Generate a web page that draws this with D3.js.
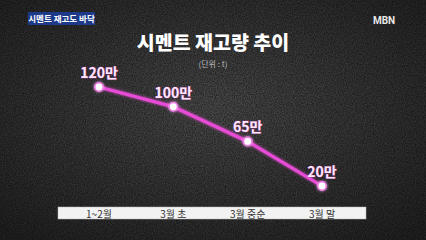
<!DOCTYPE html>
<html>
<head>
<meta charset="utf-8">
<script src="https://cdn.jsdelivr.net/npm/d3@7"></script>
<style>
  body { margin: 0; background: #222; }
  svg { display: block; }
</style>
</head>
<body>
<svg id="chart" width="426" height="240"></svg>
<script>
const periods = ["1~2월", "3월 초", "3월 중순", "3월 말"];
const stock = [120, 100, 65, 20];
const valueLabels = ["120만", "100만", "65만", "20만"];

const svg = d3.select("#chart");
const W = 426, H = 240;
const defs = svg.append("defs");

// textured asphalt background
const noise = defs.append("filter").attr("id", "noise").attr("x", 0).attr("y", 0).attr("width", "100%").attr("height", "100%");
noise.append("feTurbulence").attr("type", "fractalNoise").attr("baseFrequency", 0.9).attr("numOctaves", 2).attr("seed", 3);
noise.append("feColorMatrix").attr("type", "matrix")
  .attr("values", "0 0 0 0 0.5  0 0 0 0 0.5  0 0 0 0 0.5  0.9 0 0 0 -0.25");
const vign = defs.append("radialGradient").attr("id", "vign").attr("cx", "50%").attr("cy", "45%").attr("r", "70%");
vign.append("stop").attr("offset", "0%").attr("stop-color", "#000").attr("stop-opacity", 0);
vign.append("stop").attr("offset", "100%").attr("stop-color", "#000").attr("stop-opacity", 0.55);
const glow = defs.append("filter").attr("id", "glow").attr("x", "-50%").attr("y", "-50%").attr("width", "200%").attr("height", "200%");
glow.append("feGaussianBlur").attr("stdDeviation", 1.5).attr("result", "b");
const gm = glow.append("feMerge");
gm.append("feMergeNode").attr("in", "b");
gm.append("feMergeNode").attr("in", "SourceGraphic");

svg.append("rect").attr("width", W).attr("height", H).attr("fill", "#2c2c2c");
svg.append("rect").attr("width", W).attr("height", H).attr("filter", "url(#noise)").attr("opacity", 0.55);
svg.append("rect").attr("width", W).attr("height", H).attr("fill", "url(#vign)");

const font = "'Noto Sans CJK KR', 'Noto Sans', sans-serif";

// top-left badge
svg.append("rect").attr("x", 28).attr("y", 12).attr("width", 67).attr("height", 13).attr("fill", "#1d3a8a");
svg.append("text").attr("x", 61.5).attr("y", 22).attr("text-anchor", "middle")
  .attr("font-family", font).attr("font-size", 8.5).attr("font-weight", 700).attr("fill", "#fff")
  .text("시멘트 재고도 바닥");

// logo
svg.append("text").attr("x", 384).attr("y", 24).attr("text-anchor", "middle")
  .attr("font-family", "'Roboto', sans-serif").attr("font-size", 10).attr("font-weight", 700)
  .attr("fill", "#e8e8e8").text("MBN");

// title
svg.append("text").attr("x", 213).attr("y", 50).attr("text-anchor", "middle")
  .attr("font-family", font).attr("font-size", 19.5).attr("font-weight", 900).attr("fill", "#fff")
  .text("시멘트 재고량 추이");
svg.append("text").attr("x", 213).attr("y", 67).attr("text-anchor", "middle")
  .attr("font-family", font).attr("font-size", 8).attr("fill", "#bdbdbd")
  .text("(단위 : t)");

// scales
const x = d3.scalePoint().domain(periods).range([99, 322]);
const y = d3.scaleLinear().domain([20, 120]).range([186, 87]);

// category band
svg.append("rect").attr("x", 58).attr("y", 207).attr("width", 308).attr("height", 12)
  .attr("fill", "#f2f2f2").attr("stroke", "#bbb").attr("stroke-width", 0.5);
svg.selectAll("text.cat").data(periods).enter().append("text").attr("class", "cat")
  .attr("x", d => x(d)).attr("y", 217.5).attr("text-anchor", "middle")
  .attr("font-family", font).attr("font-size", 10).attr("font-weight", 400).attr("fill", "#333")
  .text(d => d);

// line
const data = periods.map((p, i) => ({ p, v: stock[i], label: valueLabels[i] }));
const line = d3.line().x(d => x(d.p)).y(d => y(d.v));
svg.append("path").datum(data).attr("d", line)
  .attr("fill", "none").attr("stroke", "#e84bd6").attr("stroke-width", 3.2)
  .attr("filter", "url(#glow)");

svg.selectAll("circle.pt").data(data).enter().append("circle").attr("class", "pt")
  .attr("cx", d => x(d.p)).attr("cy", d => y(d.v)).attr("r", 4.2)
  .attr("fill", "#fff").attr("stroke", "#f07ae6").attr("stroke-width", 1.5)
  .attr("filter", "url(#glow)");

svg.selectAll("text.vl").data(data).enter().append("text").attr("class", "vl")
  .attr("x", d => x(d.p)).attr("y", d => y(d.v) - 9)
  .attr("text-anchor", "middle")
  .attr("font-family", font).attr("font-size", 14).attr("font-weight", 700)
  .attr("fill", "#fde8fb").attr("stroke", "#c83fbb").attr("stroke-width", 0.6)
  .attr("paint-order", "stroke")
  .text(d => d.label);
</script>
</body>
</html>
